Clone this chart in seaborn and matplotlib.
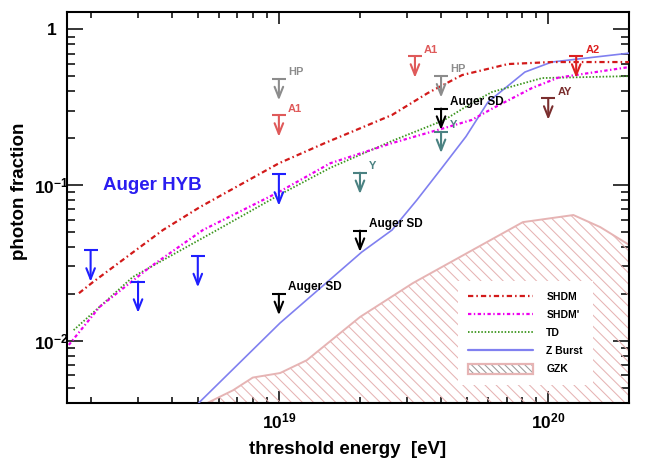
import matplotlib
matplotlib.use("Agg")
import math
import matplotlib.pyplot as plt
import seaborn as sns
from matplotlib.ticker import FixedLocator, FuncFormatter, NullFormatter, LogLocator
from matplotlib.lines import Line2D
from matplotlib.patches import Patch
from matplotlib.legend_handler import HandlerTuple

# ---------------- data ----------------
shdm_x = [1.81e18, 2.04e18, 3.71e18, 5.09e18, 1.0e19, 1.48e19, 2.63e19, 3.57e19, 4.79e19, 7.09e19, 1.03e20, 2.0e20]
shdm_y = [0.0202, 0.0238, 0.0514, 0.0722, 0.138, 0.186, 0.282, 0.39, 0.509, 0.599, 0.617, 0.617]

shdm2_x = [1.66e18, 2.16e18, 3.32e18, 5.22e18, 1.0e19, 1.55e19, 2.63e19, 4.1e19, 5.2e19, 6.2e19, 8.7e19, 1.09e20, 2.0e20]
shdm2_y = [0.0094, 0.0165, 0.0297, 0.0514, 0.0902, 0.138, 0.186, 0.232, 0.262, 0.31, 0.42, 0.49, 0.573]

td_x = [1.73e18, 2.87e18, 5.89e18, 1.0e19, 1.55e19, 2.63e19, 4.1e19, 5.2e19, 6.18e19, 9.5e19, 2.0e20]
td_y = [0.0117, 0.0257, 0.0514, 0.0862, 0.129, 0.192, 0.261, 0.336, 0.396, 0.487, 0.501]

zb_x = [5.05e18, 1.01e19, 2.03e19, 2.63e19, 3.25e19, 4.03e19, 4.95e19, 5.97e19, 8.19e19, 1.03e20, 2.0e20]
zb_y = [0.0040, 0.0130, 0.0371, 0.0514, 0.080, 0.129, 0.205, 0.341, 0.532, 0.617, 0.704]

gzk_x = [5.45e18, 6.75e18, 8.0e18, 1.01e19, 1.27e19, 2.0e19, 3.15e19, 5.0e19, 8.05e19, 1.24e20, 1.56e20, 2.0e20]
gzk_y = [0.0040, 0.0048, 0.0058, 0.0062, 0.0075, 0.0142, 0.0235, 0.0366, 0.0578, 0.0642, 0.0537, 0.0412]

# upper limits
hyb_x = [2e18, 3e18, 5e18, 1e19]
hyb_y = [0.038, 0.024, 0.035, 0.117]
sd_x = [1e19, 2e19, 4e19]
sd_y = [0.020, 0.051, 0.31]
hp_x = [1e19, 4e19]
hp_y = [0.48, 0.50]
a1_x = [1e19, 3.2e19]
a1_y = [0.28, 0.67]
yk_x = [2e19, 4e19]
yk_y = [0.12, 0.22]
ay_x = [1e20]
ay_y = [0.36]
a2_x = [1.27e20]
a2_y = [0.67]

legend_labels = ["SHDM", "SHDM'", "TD", "Z Burst", "GZK"]
y_ticks = [0.01, 0.1, 1.0]
x_ticks = [1e19, 1e20]

# ---------------- style ----------------
sns.set_theme(style="ticks")
plt.rcParams.update({
    "font.family": ["Liberation Sans", "DejaVu Sans"],
    "font.weight": "bold",
    "text.color": "black",
    "axes.labelcolor": "black",
    "xtick.color": "black",
    "ytick.color": "black",
    "mathtext.fontset": "custom",
    "mathtext.rm": "Liberation Sans:bold",
    "mathtext.bf": "Liberation Sans:bold",
    "mathtext.it": "Liberation Sans:bold:italic",
    "mathtext.sf": "Liberation Sans:bold",
    "lines.scale_dashes": False,
    "hatch.linewidth": 0.75,
    "axes.linewidth": 1.5,
})

C_SHDM = "#d21a1a"
C_SHDM2 = "#ee00ee"
C_TD = "#3c961e"
C_ZB = "#8080f0"
C_GZK = "#e6b4b4"

fig = plt.figure(figsize=(6.55, 4.61), dpi=100)
ax = fig.add_axes([0.1018, 0.1265, 0.8590, 0.8482])
ax.set_xscale("log")
ax.set_yscale("log")
ax.set_xlim(1.63e18, 2.0e20)
ax.set_ylim(0.004, 1.3)

# GZK hatched band
ax.fill_between(gzk_x, [1e-4] * len(gzk_x), gzk_y, facecolor="none",
                edgecolor=C_GZK, hatch="\\\\\\", linewidth=0, zorder=1)
sns.lineplot(x=gzk_x, y=gzk_y, ax=ax, color=C_GZK, lw=1.4, zorder=2, sort=False)

# model curves
sns.lineplot(x=zb_x, y=zb_y, ax=ax, color=C_ZB, lw=1.2, zorder=3, sort=False)
sns.lineplot(x=td_x, y=td_y, ax=ax, color=C_TD, lw=1.3, linestyle=(0, (1.1, 1.3)), zorder=3, sort=False)
sns.lineplot(x=shdm2_x, y=shdm2_y, ax=ax, color=C_SHDM2, lw=1.6, linestyle=(0, (2.4, 1.8, 1.0, 1.8)), zorder=3, sort=False)
sns.lineplot(x=shdm_x, y=shdm_y, ax=ax, color=C_SHDM, lw=1.6, linestyle=(0, (3.8, 2.2, 1.1, 2.2)), zorder=3, sort=False)

# upper-limit arrows
limits = [
    (hyb_x, hyb_y, None, "#1f1fff", 0.63, 8),
    (sd_x, sd_y, "Auger SD", "black", 0.73, 8.5),
    (hp_x, hp_y, "HP", "#8c8c8c", 0.73, 8),
    (a1_x, a1_y, "A1", "#df5a5a", 0.73, 8),
    (yk_x, yk_y, "Y", "#4b8282", 0.73, 8),
    (ay_x, ay_y, "AY", "#7a2e2e", 0.73, 8),
    (a2_x, a2_y, "A2", "#dd2020", 0.73, 8),
]
for xs, ys, lab, col, fac, fs in limits:
    for xv, yv in zip(xs, ys):
        ax.plot([xv], [yv], marker="_", markersize=9.5, mew=1.5, color=col, zorder=5, ls="none")
        ax.annotate("", xy=(xv, yv * fac), xytext=(xv, yv),
                    arrowprops=dict(arrowstyle="->,head_length=0.55,head_width=0.22",
                                    lw=1.5, color=col, shrinkA=0, shrinkB=0,
                                    mutation_scale=14), zorder=5)
        if lab:
            ax.annotate(lab, xy=(xv, yv), xytext=(6.5, 5), textcoords="offset points",
                        ha="left", va="center", fontsize=fs, fontweight="bold",
                        color=col, zorder=6)

ax.text(2.22e18, 0.099, "Auger HYB", color="#2a1df0", fontsize=13.5,
        fontweight="bold", ha="left", va="center")

# axes / ticks
for s in ax.spines.values():
    s.set_visible(True)
    s.set_linewidth(1.5)
    s.set_color("black")

ax.xaxis.set_major_locator(FixedLocator(x_ticks))
ax.yaxis.set_major_locator(FixedLocator(y_ticks))
ax.xaxis.set_minor_locator(LogLocator(base=10, subs=range(2, 10), numticks=20))
ax.yaxis.set_minor_locator(LogLocator(base=10, subs=range(2, 10), numticks=20))
ax.xaxis.set_minor_formatter(NullFormatter())
ax.yaxis.set_minor_formatter(NullFormatter())


def fmt(v, pos):
    if abs(v - 1.0) < 1e-9:
        return "1"
    e = int(round(math.log10(v)))
    return r"$\mathbf{10^{%d}}$" % e


ax.xaxis.set_major_formatter(FuncFormatter(fmt))
ax.yaxis.set_major_formatter(FuncFormatter(fmt))

ax.tick_params(which="both", direction="in", top=True, right=True, width=1.1, colors="black")
ax.tick_params(axis="x", which="major", length=8.5, pad=6, labelsize=12.5)
ax.tick_params(axis="x", which="minor", length=4)
ax.tick_params(axis="y", which="major", length=11.5, pad=11, labelsize=12.5)
ax.tick_params(axis="y", which="minor", length=6)
for lab in ax.get_yticklabels():
    lab.set_horizontalalignment("center")

ax.set_xlabel("")
ax.set_ylabel("")
fig.text(348 / 655, 1 - 449 / 461, "threshold energy  [eV]", ha="center", va="center",
         fontsize=13.5, fontweight="bold")
fig.text(20 / 655, 1 - 191 / 461, "photon fraction", ha="center", va="center",
         rotation=90, fontsize=13.5, fontweight="bold")

# legend
handles = [
    Line2D([], [], color=C_SHDM, lw=1.6, linestyle=(0, (3.8, 2.2, 1.1, 2.2))),
    Line2D([], [], color=C_SHDM2, lw=1.6, linestyle=(0, (2.4, 1.8, 1.0, 1.8))),
    Line2D([], [], color=C_TD, lw=1.3, linestyle=(0, (1.1, 1.3))),
    Line2D([], [], color=C_ZB, lw=1.6),
    (Patch(facecolor="white", edgecolor="#9a9a9a", hatch="\\\\\\\\\\", lw=0),
     Patch(facecolor="none", edgecolor=C_GZK, lw=1.6)),
]
leg = ax.legend(handles, legend_labels, loc="upper left", bbox_to_anchor=(0.695, 0.311),
                bbox_transform=ax.transAxes, frameon=True, fancybox=False,
                edgecolor="none", facecolor="white", framealpha=1, borderpad=1.0,
                handlelength=6.25, handleheight=1.1, handletextpad=1.25,
                labelspacing=0.72, prop={"weight": "bold", "size": 7.5}, borderaxespad=0,
                handler_map={tuple: HandlerTuple(ndivide=1)})
leg.set_zorder(10)

fig.savefig("out.png", dpi=100)
